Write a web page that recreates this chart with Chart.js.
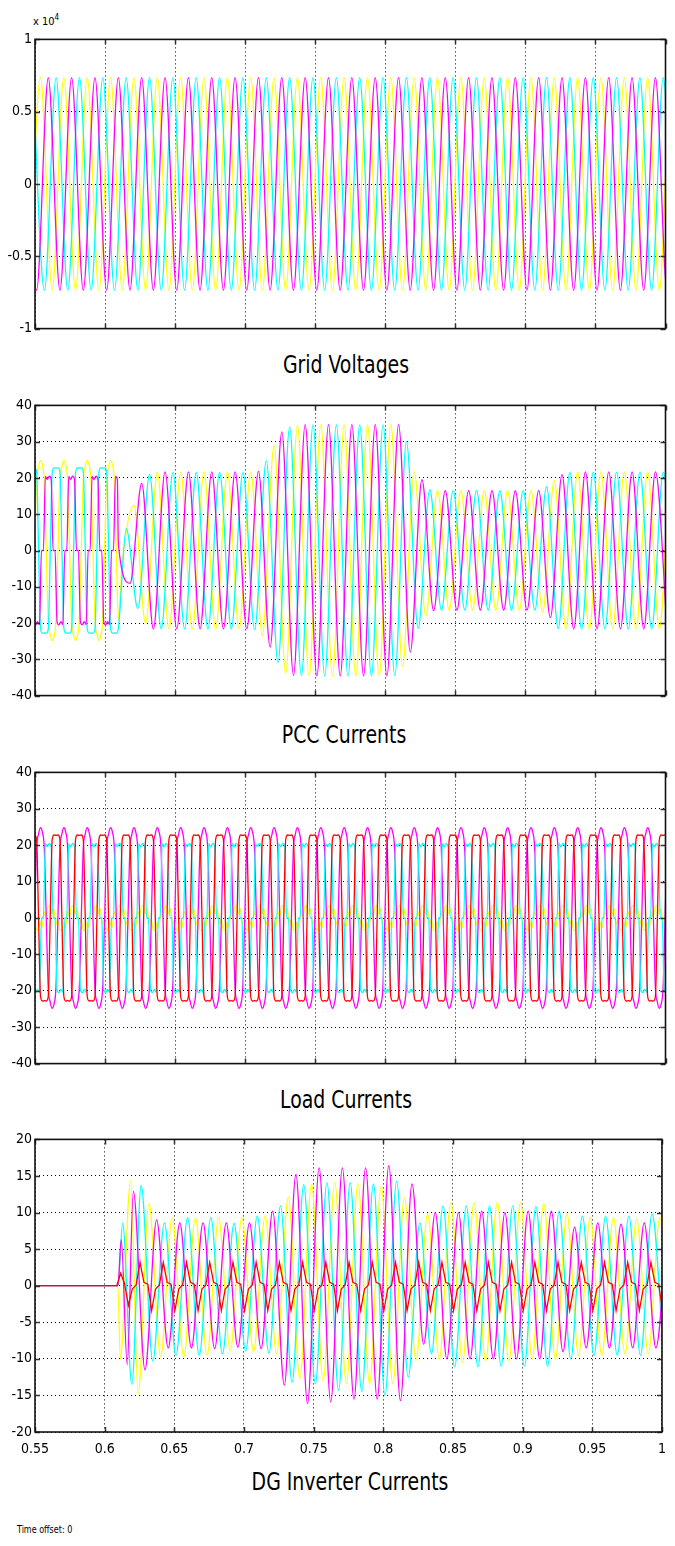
<!DOCTYPE html>
<html>
<head>
<meta charset="utf-8">
<script src="https://cdn.jsdelivr.net/npm/chart.js@4.4.1/dist/chart.umd.min.js"></script>
<style>
  body { margin: 0; background: #fff; width: 675px; height: 1546px; position: relative; overflow: hidden;
         font-family: "Liberation Sans Narrow", "Arial Narrow", "DejaVu Sans Condensed", sans-serif; }
  canvas { position: absolute; left: 0; }
  .title { position: absolute; transform: translateX(-50%) scaleX(0.84); font-size: 25px; line-height: 30px; color: #000; white-space: nowrap; }
  .exp { position: absolute; left: 33px; top: 13px; font-size: 11px; color: #000; }
  .exp sup { font-size: 8px; }
  .offset { position: absolute; left: 17px; top: 1523px; font-size: 10.5px; color: #000; transform: scaleX(0.85); transform-origin: left top; }
</style>
</head>
<body>
<div class="exp">x 10<sup>4</sup></div>
<canvas id="grid" width="675" height="312" style="top:28px"></canvas>
<div class="title" style="left:346px; top:350px">Grid Voltages</div>
<canvas id="pcc" width="675" height="313" style="top:394px"></canvas>
<div class="title" style="left:344px; top:720px">PCC Currents</div>
<canvas id="load" width="675" height="314" style="top:761px"></canvas>
<div class="title" style="left:346px; top:1085px">Load Currents</div>
<canvas id="dg" width="675" height="334" style="top:1128px"></canvas>
<div class="title" style="left:350px; top:1467px">DG Inverter Currents</div>
<div class="offset">Time offset: 0</div>

<script>
const T = 1 / 60; // 60 Hz supply period

const timeTicks = [0.55, 0.6, 0.65, 0.7, 0.75, 0.8, 0.85, 0.9, 0.95, 1];
const timeTickLabels = ["0.55", "0.6", "0.65", "0.7", "0.75", "0.8", "0.85", "0.9", "0.95", "1"];
const voltTicks = [-10000, -5000, 0, 5000, 10000];
const voltTickLabels = ["-1", "-0.5", "0", "0.5", "1"];
const ampTicks40 = [-40, -30, -20, -10, 0, 10, 20, 30, 40];
const ampTickLabels40 = ["-40", "-30", "-20", "-10", "0", "10", "20", "30", "40"];
const ampTicks20 = [-20, -15, -10, -5, 0, 5, 10, 15, 20];
const ampTickLabels20 = ["-20", "-15", "-10", "-5", "0", "5", "10", "15", "20"];

// Grid voltages: successive half-cycle extremes (V), one every T/2
const gridYellowStart = 0.5456;
const gridYellow = [-7350, 7350, -7350, 7350, -7350, 7350, -7350, 7350, -7350, 7350, -7350, 7350, -7350, 7350,
  -7350, 7350, -7350, 7350, -7350, 7350, -7350, 7350, -7350, 7350, -7350, 7350, -7350, 7350, -7350, 7350,
  -7350, 7350, -7350, 7350, -7350, 7350, -7350, 7350, -7350, 7350, -7350, 7350, -7350, 7350, -7350, 7350,
  -7350, 7350, -7350, 7350, -7350, 7350, -7350, 7350, -7350, 7350, -7350];
const gridMagentaStart = 0.5428;
const gridMagenta = [7350, -7350, 7350, -7350, 7350, -7350, 7350, -7350, 7350, -7350, 7350, -7350, 7350, -7350,
  7350, -7350, 7350, -7350, 7350, -7350, 7350, -7350, 7350, -7350, 7350, -7350, 7350, -7350, 7350, -7350,
  7350, -7350, 7350, -7350, 7350, -7350, 7350, -7350, 7350, -7350, 7350, -7350, 7350, -7350, 7350, -7350,
  7350, -7350, 7350, -7350, 7350, -7350, 7350, -7350, 7350, -7350, 7350];
const gridCyanStart = 0.5484;
const gridCyan = [7350, -7350, 7350, -7350, 7350, -7350, 7350, -7350, 7350, -7350, 7350, -7350, 7350, -7350,
  7350, -7350, 7350, -7350, 7350, -7350, 7350, -7350, 7350, -7350, 7350, -7350, 7350, -7350, 7350, -7350,
  7350, -7350, 7350, -7350, 7350, -7350, 7350, -7350, 7350, -7350, 7350, -7350, 7350, -7350, 7350, -7350,
  7350, -7350, 7350, -7350, 7350, -7350, 7350, -7350, 7350, -7350, 7350];

// PCC currents before the DG connects (samples every T/12), then half-cycle extremes
const pccYellowEarlyStart = 0.5372;
const pccYellowEarly = [24.8, 23.6, 19, 0, -19, -23, -24.8, -23.6, -19, 0, 19, 23,
  24.8, 23.6, 19, 0, -19, -23, -24.8, -23.6, -19, 0, 19, 23,
  24.8, 23.6, 19, 0, -19, -23, -24.8, -23.6, -19, 0, 19, 23,
  24.8, 23.6, 19, 0, -19, -23, -24.8, -23.6, -19, 0, 19, 23,
  24.8, 23.6, 19, 0, -19];
const pccYellowPeaksStart = 0.6123;
const pccYellowPeaks = [-3.5, 12.5, -20, 21.5, -21.6, 21.6, -21.6, 21.6, -21.6, 21.6, -21.6, 21.7, -23.5, 29,
  -33.9, 34.5, -34.5, 34.6, -34.6, 34.6, -34.6, 34.6, -34.6, 34.7, -32, 21.7, -18, 16.5, -16.4, 16.5, -16.4,
  16.5, -16.4, 16.5, -16.4, 16.5, -17, 19.3, -21.6, 21.7, -21.6, 21.7, -21.6, 21.7, -21.6, 21.7, -21.6, 21.7, -21.6];

const pccMagentaEarlyStart = 0.5435;
const pccMagentaEarly = [20.5, 19.6, 0, 0, -19.6, -20.5, -19.6, -20.4, 0, 0, 20.4, 19.6,
  20.5, 19.6, 0, 0, -19.6, -20.5, -19.6, -20.4, 0, 0, 20.4, 19.6,
  20.5, 19.6, 0, 0, -19.6, -20.5, -19.6, -20.4, 0, 0, 20.4, 19.6,
  20.5, 19.6, 0, 0, -19.6, -20.5, -19.6, -20.4, 0, 0, 20.4, 19.6];
const pccMagentaPeaksStart = 0.6095;
const pccMagentaPeaks = [1.8, -9, 18.5, -21.6, 21.7, -21.6, 21.7, -21.6, 21.7, -21.6, 21.7, -21.6, 21.8, -26.6,
  32.7, -34.4, 34.7, -34.6, 34.7, -34.6, 34.7, -34.6, 34.7, -34.6, 34.7, -28, 19.5, -16.6, 16.5, -16.4, 16.5,
  -16.4, 16.5, -16.4, 16.5, -16.4, 16.5, -18.5, 20.9, -21.6, 21.7, -21.6, 21.7, -21.6, 21.7, -21.6, 21.7, -21.6];

const pccCyanEarlyStart = 0.5484;
const pccCyanEarly = [22.7, 22.8, 21.5, 0, -21.5, -22.8, -22.7, -22.8, -21.5, 0, 21.5, 22.8,
  22.7, 22.8, 21.5, 0, -21.5, -22.8, -22.7, -22.8, -21.5, 0, 21.5, 22.8,
  22.7, 22.8, 21.5, 0, -21.5, -22.8, -22.7, -22.8, -21.5, 0, 21.5, 22.8,
  22.7, 22.8, 21.5, 0, -21.5, -22.8, -22.7, -22.8, -21.5];
const pccCyanPeaksStart = 0.6151;
const pccCyanPeaks = [6, -16, 21, -21.6, 21.5, -21.6, 21.5, -21.6, 21.5, -21.6, 21.5, -21.8, 24.7, -30.9, 34,
  -34.5, 34.6, -34.6, 34.6, -34.6, 34.6, -34.6, 34.6, -34.5, 30, -21.5, 16.8, -16.4, 16.5, -16.4, 16.5, -16.4,
  16.5, -16.4, 16.5, -16.4, 17.5, -21.5, 21.5, -21.6, 21.6, -21.6, 21.6, -21.6, 21.6, -21.6, 21.6, -21.6];

// Load currents: the load draws the same current every cycle; one cycle (every T/12)
const loadCycles = 29;
const loadRedStart = 0.5317;
const loadRedCycle = [22.7, 22.8, 21.5, 0, -21.5, -22.8, -22.7, -22.8, -21.5, 0, 21.5, 22.8];
const loadMagentaStart = 0.5372;
const loadMagentaCycle = [24.8, 23.6, 19, 0, -19, -23, -24.8, -23.6, -19, 0, 19, 23];
const loadCyanStart = 0.5435;
const loadCyanCycle = [20.5, 19.6, 0, 0, -19.6, -20.5, -19.6, -20.4, 0, 0, 20.4, 19.6];
const loadYellowStart = 0.5440;
const loadYellowCycle = [3.4, 1.2, 2.6, -1.8, -0.4, -3.2, -3.4, -1.2, -2.6, 1.8, 0.4, 3.2];

// DG inverter currents: switch-on transient as (time, value) pairs, then half-cycle extremes
const dgYellowLead = [[0.55, 0], [0.6095, 0], [0.6112, -10], [0.6186, 14.3], [0.6240, -14.8]];
const dgYellowPeaksStart = 0.6318;
const dgYellowPeaks = [11.2, -9.7, 9.3, -9.7, 9.3, -9.5, 9.3, -8.9, 9.3, -9, 9.5, -9.3, 12.1, -12.7, 13.9, -13,
  14.1, -13.4, 14, -13.4, 13.6, -13.4, 12.1, -10.2, 9.8, -10, 11.4, -10.5, 11.4, -10.3, 11.4, -10.3, 11.4, -10,
  11.2, -10, 9.8, -9.5, 9.3, -9.5, 9.3, -9.3, 9.1, -9.3, 9.3, -9.3];
const dgMagentaLead = [[0.55, 0], [0.6095, 0], [0.6119, 6.3], [0.6162, -10.8]];
const dgMagentaPeaksStart = 0.6206;
const dgMagentaPeaks = [12.9, -11.5, 9, -8.5, 8.6, -8.5, 8.6, -8.6, 8.6, -8.4, 8.6, -8.6, 10.2, -13.6, 15.2,
  -16.1, 16.1, -15.9, 16.1, -15.5, 16.1, -15.5, 16.4, -15.7, 13.9, -8, 10, -10, 10, -10, 10.2, -10, 10, -10,
  10.2, -10, 10.2, -9, 8, -8.5, 8.6, -8.5, 8.4, -8.5, 8.6, -8.5, 8.6];
const dgCyanLead = [[0.55, 0], [0.6095, 0], [0.6129, 8.5], [0.6195, -13.5]];
const dgCyanPeaksStart = 0.6262;
const dgCyanPeaks = [13.7, -10.3, 8.6, -9.5, 9.3, -9.5, 9.3, -9.3, 8.5, -8.9, 9.5, -9.2, 10.9, -13.2, 13.8,
  -13.4, 14.1, -14.3, 14.1, -14.5, 13.9, -15, 14.3, -12.5, 8.6, -9.3, 10.9, -11.1, 10.9, -11.1, 10.9, -11,
  10.9, -11, 10.8, -11, 10.2, -10, 9.5, -9.5, 9.5, -9.5, 9.5, -9.5, 9.8, -9.5];
// red: flat until switch-on, first cycle, then a repeating cycle (samples every T/6)
const dgRedLead = [[0.55, 0]];
const dgRedStartUp = 0.6087;
const dgRedFirst = [0, 1.7, 0.3, -2.7, -0.45, 0.1];
const dgRedCycleStart = 0.6254;
const dgRedCycles = 23;
const dgRedCycle = [3.2, 0.45, 0.2, -3.4, -0.45, 0.1];

const YELLOW = "#ffff00", MAGENTA = "#ff00ff", CYAN = "#00ffff", RED = "#ff0000";

function trace(start, step, values) {
  return values.map((v, i) => ({ x: start + i * step, y: v }));
}
function pairs(list) {
  return list.map(([x, y]) => ({ x, y }));
}
function repeat(cycle, n) {
  let out = [];
  for (let i = 0; i < n; i++) out = out.concat(cycle);
  return out;
}
function line(color, data, extra) {
  return Object.assign({ data, borderColor: color, borderWidth: 1.3, pointRadius: 0, fill: false }, extra || {});
}

// MATLAB-style box with inward tick marks
const matlabFrame = {
  id: "matlabFrame",
  afterDraw(chart) {
    const { ctx, chartArea: a } = chart;
    const x = chart.scales.x, y = chart.scales.y;
    ctx.save();
    ctx.strokeStyle = "#333";
    ctx.lineWidth = 1.5;
    ctx.beginPath();
    x.ticks.forEach(t => {
      const px = Math.round(x.getPixelForValue(t.value)) + 0.5;
      ctx.moveTo(px, a.top); ctx.lineTo(px, a.top + 5);
      ctx.moveTo(px, a.bottom); ctx.lineTo(px, a.bottom - 5);
    });
    y.ticks.forEach(t => {
      const py = Math.round(y.getPixelForValue(t.value)) + 0.5;
      ctx.moveTo(a.left, py); ctx.lineTo(a.left + 5, py);
      ctx.moveTo(a.right, py); ctx.lineTo(a.right - 5, py);
    });
    ctx.stroke();
    ctx.strokeStyle = "#111";
    ctx.lineWidth = 1.6;
    ctx.strokeRect(a.left, a.top, a.right - a.left, a.bottom - a.top);
    ctx.restore();
  }
};

Chart.defaults.font.family = '"Liberation Sans Narrow", "Arial Narrow", "DejaVu Sans Condensed", sans-serif';
Chart.defaults.color = "#000";

function plot(id, yTicks, yLabels, showTime, datasets) {
  return new Chart(document.getElementById(id), {
    type: "line",
    data: { datasets },
    options: {
      responsive: false,
      animation: false,
      events: [],
      layout: { padding: { top: 10, right: 9.5, bottom: 0, left: 0 } },
      plugins: { legend: { display: false }, tooltip: { enabled: false } },
      elements: { line: { cubicInterpolationMode: "monotone" } },
      scales: {
        x: {
          type: "linear",
          min: 0.55,
          max: 1,
          afterBuildTicks: s => { s.ticks = timeTicks.map(v => ({ value: v })); },
          afterFit: s => { s.height = showTime ? 30 : 10; },
          grid: { color: "#000", lineWidth: 1, drawTicks: false },
          border: { display: false, dash: [1, 3] },
          ticks: { display: showTime, autoSkip: false, maxRotation: 0, padding: 9,
                   font: { size: 14 }, callback: (v, i) => timeTickLabels[i] }
        },
        y: {
          min: yTicks[0],
          max: yTicks[yTicks.length - 1],
          afterBuildTicks: s => { s.ticks = yTicks.map(v => ({ value: v })); },
          afterFit: s => { s.width = 35; },
          grid: { color: "#000", lineWidth: 1, drawTicks: false },
          border: { display: false, dash: [1, 3] },
          ticks: { autoSkip: false, padding: 3, font: { size: 14 }, callback: (v, i) => yLabels[i] }
        }
      }
    },
    plugins: [matlabFrame]
  });
}

plot("grid", voltTicks, voltTickLabels, false, [
  line(MAGENTA, trace(gridMagentaStart, T / 2, gridMagenta)),
  line(CYAN, trace(gridCyanStart, T / 2, gridCyan)),
  line(YELLOW, trace(gridYellowStart, T / 2, gridYellow))
]);

plot("pcc", ampTicks40, ampTickLabels40, false, [
  line(MAGENTA, trace(pccMagentaEarlyStart, T / 12, pccMagentaEarly)
    .concat(trace(pccMagentaPeaksStart, T / 2, pccMagentaPeaks))),
  line(CYAN, trace(pccCyanEarlyStart, T / 12, pccCyanEarly)
    .concat(trace(pccCyanPeaksStart, T / 2, pccCyanPeaks))),
  line(YELLOW, trace(pccYellowEarlyStart, T / 12, pccYellowEarly)
    .concat(trace(pccYellowPeaksStart, T / 2, pccYellowPeaks)))
]);

plot("load", ampTicks40, ampTickLabels40, false, [
  line(RED, trace(loadRedStart, T / 12, repeat(loadRedCycle, loadCycles))),
  line(CYAN, trace(loadCyanStart, T / 12, repeat(loadCyanCycle, loadCycles))),
  line(MAGENTA, trace(loadMagentaStart, T / 12, repeat(loadMagentaCycle, loadCycles))),
  line(YELLOW, trace(loadYellowStart, T / 12, repeat(loadYellowCycle, loadCycles)))
]);

plot("dg", ampTicks20, ampTickLabels20, true, [
  line(RED, pairs(dgRedLead)
    .concat(trace(dgRedStartUp, T / 6, dgRedFirst))
    .concat(trace(dgRedCycleStart, T / 6, repeat(dgRedCycle, dgRedCycles))),
    { cubicInterpolationMode: "default", tension: 0 }),
  line(MAGENTA, pairs(dgMagentaLead).concat(trace(dgMagentaPeaksStart, T / 2, dgMagentaPeaks))),
  line(CYAN, pairs(dgCyanLead).concat(trace(dgCyanPeaksStart, T / 2, dgCyanPeaks))),
  line(YELLOW, pairs(dgYellowLead).concat(trace(dgYellowPeaksStart, T / 2, dgYellowPeaks)))
]);
</script>
</body>
</html>
